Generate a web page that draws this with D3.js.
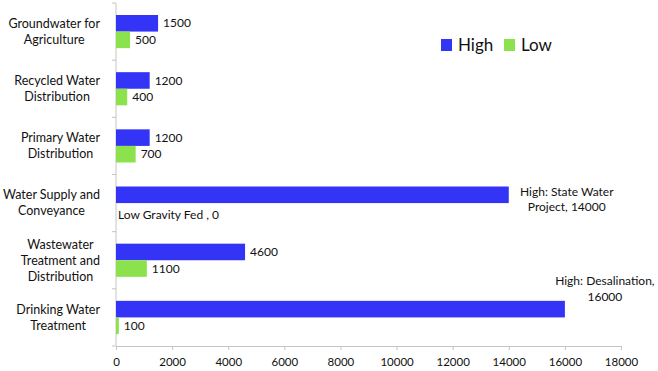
<!DOCTYPE html>
<html>
<head>
<meta charset="utf-8">
<script src="https://cdn.jsdelivr.net/npm/d3@7"></script>
<style>
  body { margin: 0; background: #fff; }
  svg text { font-family: Lato, "Open Sans", sans-serif; fill: #111; }
</style>
</head>
<body>
<div id="chart"></div>
<script>
// dados
const categories = [
  "Groundwater for Agriculture",
  "Recycled Water Distribution",
  "Primary Water Distribution",
  "Water Supply and Conveyance",
  "Wastewater Treatment and Distribution",
  "Drinking Water Treatment"
];
const categoryLines = [
  ["Groundwater for", "Agriculture"],
  ["Recycled Water", "Distribution"],
  ["Primary Water", "Distribution"],
  ["Water Supply and", "Conveyance"],
  ["Wastewater", "Treatment and", "Distribution"],
  ["Drinking Water", "Treatment"]
];
const seriesNames = ["High", "Low"];
const highValues = [1500, 1200, 1200, 14000, 4600, 16000];
const lowValues = [500, 400, 700, 0, 1100, 100];
const xTicks = [0, 2000, 4000, 6000, 8000, 10000, 12000, 14000, 16000, 18000];

// rótulos especiais (texto fora da barra)
const specialLabels = {
  "Water Supply and Conveyance|High": ["High: State Water", "Project, 14000"],
  "Water Supply and Conveyance|Low": ["Low Gravity Fed , 0"],
  "Drinking Water Treatment|High": ["High: Desalination,", "16000"]
};

const colors = { High: "#3434f6", Low: "#8ce24c" };

const width = 658, height = 371;
const svg = d3.select("#chart").append("svg")
  .attr("width", width)
  .attr("height", height);

// escalas
const x = d3.scaleLinear().domain([0, 18000]).range([116, 621]);
const y = d3.scaleBand().domain(categories).range([3, 346])
  .paddingInner(0.42).paddingOuter(0.21);
const ySub = d3.scaleBand().domain(seriesNames).range([0, y.bandwidth()]);

const rows = categories.map((c, i) => ({ cat: c, lines: categoryLines[i], High: highValues[i], Low: lowValues[i] }));

// eixo x
const xAxis = svg.append("g")
  .attr("transform", `translate(0,${y.range()[1]})`)
  .call(d3.axisBottom(x).tickValues(xTicks).tickSize(4).tickPadding(8).tickFormat(d3.format("d")));
xAxis.select(".domain").attr("stroke", "#c4c4c4");
xAxis.selectAll(".tick line").attr("stroke", "#c4c4c4");
xAxis.selectAll(".tick text").style("font-size", "11.5px").attr("fill", "#111");

// eixo y (linha + marcas entre categorias)
const step = y.step();
const yr = y.range();
svg.append("line")
  .attr("x1", x(0)).attr("x2", x(0))
  .attr("y1", yr[0]).attr("y2", yr[1])
  .attr("stroke", "#c4c4c4");
d3.range(categories.length + 1).forEach(i => {
  svg.append("line")
    .attr("x1", x(0) - 4).attr("x2", x(0))
    .attr("y1", yr[0] + i * step).attr("y2", yr[0] + i * step)
    .attr("stroke", "#c4c4c4");
});

// rótulos das categorias
rows.forEach(r => {
  const cy = y(r.cat) + y.bandwidth() / 2;
  const lh = 16;
  const g = svg.append("g");
  const texts = r.lines.map((l, j) => g.append("text")
    .attr("y", cy + (j - (r.lines.length - 1) / 2) * lh)
    .attr("dy", "0.35em")
    .attr("text-anchor", "middle")
    .style("font-size", "12.5px")
    .text(l));
  const maxW = d3.max(texts, t => t.node().getComputedTextLength());
  texts.forEach(t => t.attr("x", 100 - maxW / 2));
});

// barras
const groups = svg.selectAll(".cat")
  .data(rows)
  .join("g")
  .attr("class", "cat")
  .attr("transform", d => `translate(0,${y(d.cat)})`);

groups.selectAll("rect")
  .data(d => seriesNames.map(s => ({ cat: d.cat, s, v: d[s] })))
  .join("rect")
  .attr("x", x(0))
  .attr("y", d => ySub(d.s))
  .attr("width", d => x(d.v) - x(0))
  .attr("height", ySub.bandwidth())
  .attr("fill", d => colors[d.s]);

// rótulos de valores
groups.each(function (row) {
  const g = d3.select(this);
  seriesNames.forEach(s => {
    const key = row.cat + "|" + s;
    const by = ySub(s) + ySub.bandwidth() / 2;
    const special = specialLabels[key];
    if (!special) {
      g.append("text")
        .attr("x", x(row[s]) + 5)
        .attr("y", by)
        .attr("dy", "0.35em")
        .style("font-size", "12px")
        .text(row[s]);
    } else if (special.length === 1) {
      g.append("text")
        .attr("x", x(row[s]) + 2)
        .attr("y", by + 3)
        .attr("dy", "0.35em")
        .style("font-size", "12px")
        .text(special[0]);
    } else {
      // rótulo em duas linhas à direita/acima da barra
      const isSupply = row.cat.startsWith("Water");
      const cx = x(row[s]) + (isSupply ? 58 : 40);
      const y0 = isSupply ? by - 3 : by - 28;
      special.forEach((l, j) => {
        g.append("text")
          .attr("x", cx)
          .attr("y", y0 + j * 15.5)
          .attr("dy", "0.35em")
          .attr("text-anchor", "middle")
          .style("font-size", "12px")
          .text(l);
      });
    }
  });
});

// legenda
const legend = svg.append("g").attr("transform", "translate(441,39)");
seriesNames.forEach((s, i) => {
  const lg = legend.append("g").attr("transform", `translate(${i * 63},0)`);
  lg.append("rect").attr("width", 11).attr("height", 12).attr("fill", colors[s]);
  lg.append("text").attr("x", 17).attr("y", 6).attr("dy", "0.36em")
    .style("font-size", "17px").text(s);
});
</script>
</body>
</html>
